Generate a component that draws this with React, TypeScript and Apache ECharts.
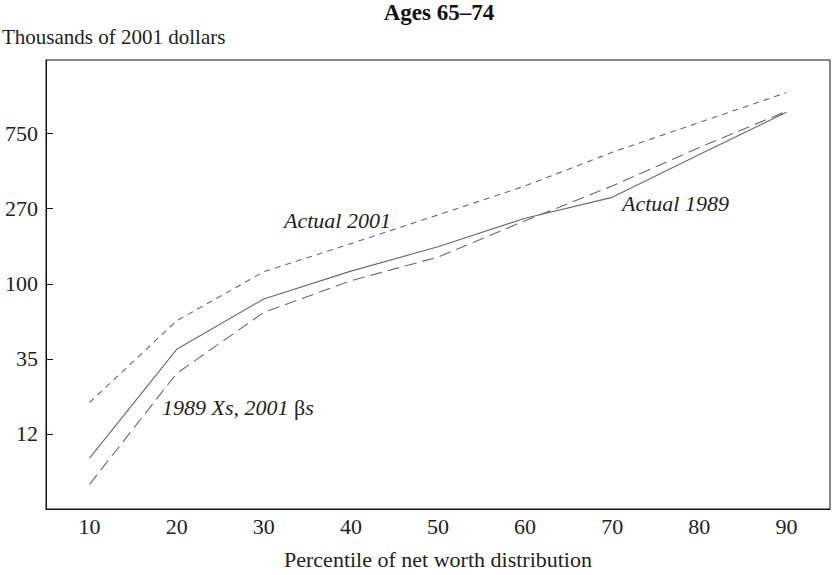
import React, { useEffect, useRef } from "react";
import * as echarts from "echarts";

const categories = ["10", "20", "30", "40", "50", "60", "70", "80", "90"];
const actual2001 = [18.5, 57, 112, 165, 245, 365, 580, 875, 1320];
const actual1989 = [8.6, 38.5, 77, 113, 158, 234, 312, 563, 1006];
const xs1989Betas2001 = [6.0, 27.6, 64, 99, 137, 226, 365, 620, 1020];
const yTickValues = [12, 33.74, 94.87, 266.7, 750];
const yTickLabels = ["12", "35", "100", "270", "750"];

const FONT = "Liberation Serif";
const FS = 22;

export default function App() {
  const ref = useRef<HTMLDivElement>(null);
  useEffect(() => {
    if (!ref.current) return;
    const chart = echarts.init(ref.current, undefined, { renderer: "svg" });
    const lineColor = "#6a6a6a";
    const labelOf = (v: number) => {
      let best = 0;
      let bd = Infinity;
      yTickValues.forEach((t, i) => {
        const d = Math.abs(Math.log(t) - Math.log(v));
        if (d < bd) {
          bd = d;
          best = i;
        }
      });
      return yTickLabels[best];
    };
    chart.setOption({
      animation: false,
      backgroundColor: "#ffffff",
      grid: {
        left: 46,
        right: 3,
        top: 60,
        bottom: 64,
        show: true,
        borderColor: "#111",
        borderWidth: 1,
        backgroundColor: "transparent",
      },
      xAxis: {
        type: "category",
        data: categories,
        boundaryGap: true,
        axisLine: { lineStyle: { color: "#111", width: 1 } },
        axisTick: { inside: true, length: 8, lineStyle: { color: "#111" } },
        axisLabel: { fontFamily: FONT, fontSize: FS, color: "#222", margin: 6 },
        name: "Percentile of net worth distribution",
        nameLocation: "middle",
        nameGap: 39,
        nameTextStyle: { fontFamily: FONT, fontSize: FS, color: "#222" },
        splitLine: { show: false },
      },
      yAxis: {
        type: "log",
        logBase: 10,
        min: 4.27,
        max: 2068,
        axisLine: { show: true, lineStyle: { color: "#111", width: 1 } },
        axisTick: {
          show: true,
          inside: true,
          length: 7,
          customValues: yTickValues,
          lineStyle: { color: "#111" },
        },
        axisLabel: {
          customValues: yTickValues,
          fontFamily: FONT,
          fontSize: FS,
          color: "#222",
          margin: 8,
          formatter: (v: number) => labelOf(v),
        },
        splitLine: { show: false },
      },
      series: [
        {
          name: "Actual 2001",
          type: "line",
          data: actual2001,
          symbol: "none",
          lineStyle: { color: lineColor, width: 1.1, type: [6, 5] },
        },
        {
          name: "Actual 1989",
          type: "line",
          data: actual1989,
          symbol: "none",
          lineStyle: { color: lineColor, width: 1.1, type: "solid" },
        },
        {
          name: "1989 Xs, 2001 βs",
          type: "line",
          data: xs1989Betas2001,
          symbol: "none",
          lineStyle: { color: lineColor, width: 1.1, type: [12, 6] },
        },
      ],
      graphic: [
        {
          type: "text",
          x: 439,
          y: 12,
          style: {
            text: "Ages 65–74",
            fontFamily: FONT,
            fontSize: 23,
            fontWeight: "bold",
            fill: "#111",
            align: "center",
            verticalAlign: "middle",
          },
        },
        {
          type: "text",
          x: 2,
          y: 37,
          style: {
            text: "Thousands of 2001 dollars",
            fontFamily: FONT,
            fontSize: 21,
            fill: "#222",
            verticalAlign: "middle",
          },
        },
        {
          type: "text",
          x: 284,
          y: 220,
          style: {
            text: "Actual 2001",
            fontFamily: FONT,
            fontSize: FS,
            fontStyle: "italic",
            fill: "#222",
            verticalAlign: "middle",
          },
        },
        {
          type: "text",
          x: 622,
          y: 203,
          style: {
            text: "Actual 1989",
            fontFamily: FONT,
            fontSize: FS,
            fontStyle: "italic",
            fill: "#222",
            verticalAlign: "middle",
          },
        },
        {
          type: "text",
          x: 162,
          y: 407,
          style: {
            text: "{i|1989 Xs, 2001 }{b|β}{i|s}",
            verticalAlign: "middle",
            rich: {
              i: { fontFamily: FONT, fontSize: FS, fontStyle: "italic", fill: "#222", color: "#222" },
              b: { fontFamily: FONT, fontSize: FS, fill: "#222", color: "#222" },
            },
          },
        },
      ],
    });
    return () => chart.dispose();
  }, []);
  return (
    <div
      ref={ref}
      style={{ position: "fixed", left: 0, top: 0, width: 833, height: 575, background: "#fff" }}
    />
  );
}
